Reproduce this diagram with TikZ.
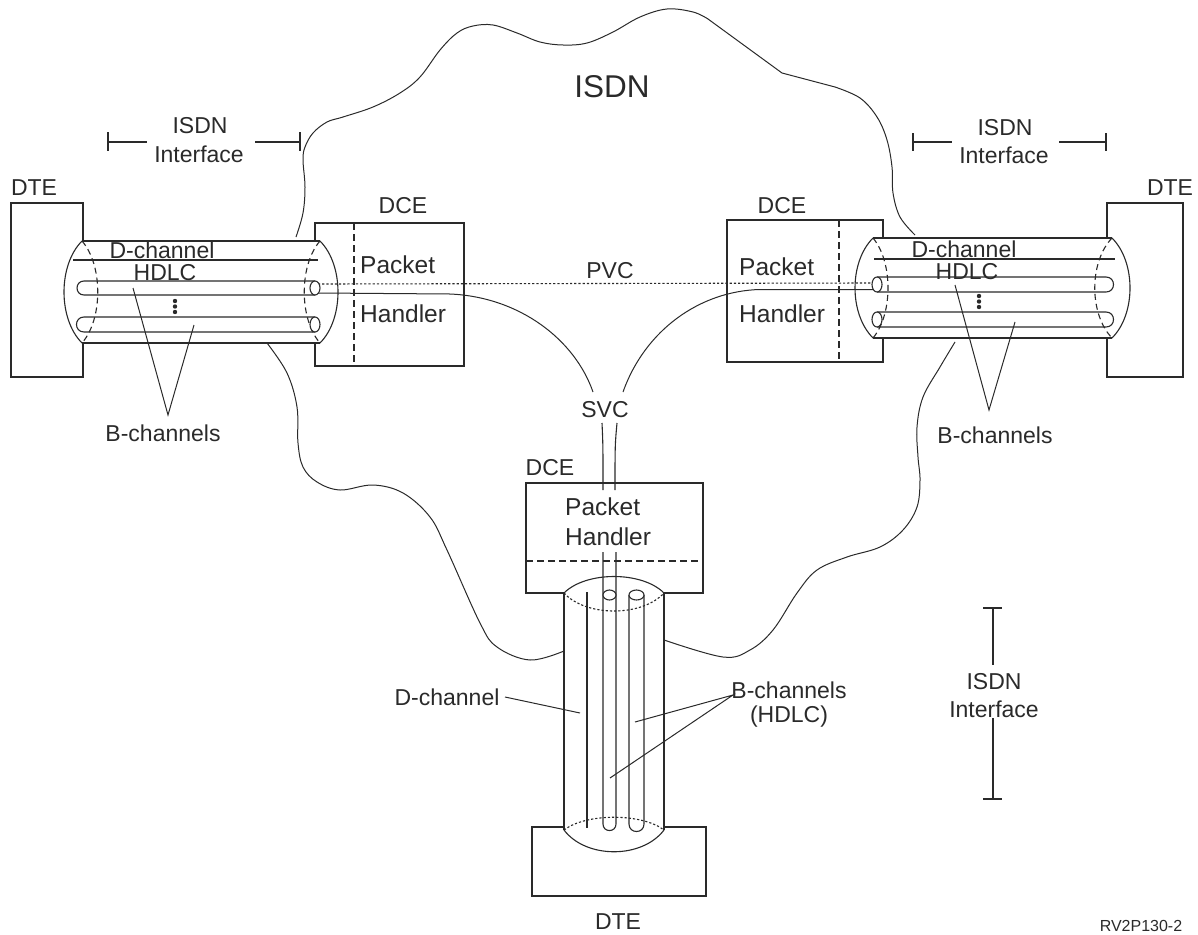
\documentclass[tikz,border=0pt]{standalone}
\usepackage{fontspec}
\setmainfont{Liberation Sans}
\definecolor{ink}{HTML}{2A2A2A}
\begin{document}
\begin{tikzpicture}[x=1pt,y=-1pt,
  ln/.style={draw=ink,line width=1.1pt},
  thin/.style={draw=ink,line width=1pt},
  dsh/.style={dash pattern=on 7pt off 4pt},
  cdsh/.style={dash pattern=on 6pt off 4pt},
  dotl/.style={dash pattern=on 2.2pt off 2pt},
  lbl/.style={font=\fontsize{23}{27}\selectfont,text=ink,inner sep=0pt,anchor=base},
  lblp/.style={font=\fontsize{24.5}{28}\selectfont,text=ink,inner sep=0pt,anchor=base west},
  lblb/.style={font=\fontsize{31.5}{36}\selectfont,text=ink,inner sep=0pt,anchor=base},
  lbls/.style={font=\fontsize{16}{19}\selectfont,text=ink,inner sep=0pt,anchor=base}]
\useasboundingbox (0,0) rectangle (1198,934);

% ---------------- cloud (ISDN network) ----------------
\draw[thin] plot[smooth,tension=0.6] coordinates {(296,237) (303,213) (305,187) (303,160) (305,147) (313,133) (327,122) (343,117) (373,107) (400,93) (420,77) (440,50) (457,33) (473,26) (493,25) (517,33) (540,42) (563,45) (587,43) (613,32) (640,17) (667,9) (693,12) (708,19)}
  -- (782,73) -- (835,87) -- plot[smooth,tension=0.6] coordinates {(835,87) (860,98) (877,117) (887,140) (892,167) (893,193) (900,217) (915,235)};
\draw[thin] plot[smooth,tension=0.6] coordinates {(267,343) (287,373) (297,407) (298,443) (303,467) (317,482) (340,490) (373,485) (403,493) (430,517) (447,550) (480,623) (497,647) (530,660) (564,651)};
\draw[thin] plot[smooth,tension=0.6] coordinates {(664,640) (723,657) (750,650) (773,630) (797,593) (817,570) (847,557) (880,547) (903,530) (917,507) (920,480) (918,457) (917,427) (923,397) (940,367) (955,342)};

% ---------------- boxes ----------------
\draw[ln] (11,203) rectangle (83,377) coordinate (dteL);
\draw[ln] (1107,203) rectangle (1183,377) coordinate (dteR);
\draw[ln] (532,827) rectangle (706,896) coordinate (dteB);
\draw[ln] (315,223) rectangle (464,366);
\draw[ln,dsh] (354,223) -- (354,366);
\draw[ln] (727,220) rectangle (883,362);
\draw[ln,dsh] (839,220) -- (839,362);
\draw[ln] (526,483) rectangle (703,593);
\draw[ln,dsh] (526,561) -- (703,561);

% ---------------- left cylinder ----------------
\fill[white] (82,241) -- (320,241) .. controls (344,265) and (344,319) .. (320,343) -- (82,343) .. controls (58,319) and (58,265) .. (82,241) -- cycle;
\draw[ln] (82,241) -- (320,241) (82,343) -- (320,343);
\draw[ln] (320,241) .. controls (344,265) and (344,319) .. (320,343);
\draw[ln] (82,241) .. controls (58,265) and (58,319) .. (82,343);
\draw[ln,cdsh] (82,241) .. controls (103,265) and (103,319) .. (82,343);
\draw[ln,cdsh] (320,241) .. controls (299,265) and (299,319) .. (320,343);
\draw[ln] (73,260) -- (318,260);
\draw[ln] (315,281) -- (84,281) .. controls (74.7,281) and (74.7,295) .. (84,295) -- (315,295);
\draw[ln] (315,317) -- (84,317) .. controls (74,317) and (74,332) .. (84,332) -- (315,332);
\foreach \yy in {301,306.5,312} \fill[ink] (175,\yy) circle[radius=2.2pt];

% ---------------- right cylinder ----------------
\fill[white] (873,238) -- (1112,238) .. controls (1136,262) and (1136,314) .. (1112,338) -- (873,338) .. controls (849,314) and (849,262) .. (873,238) -- cycle;
\draw[ln] (873,238) -- (1112,238) (873,338) -- (1112,338);
\draw[ln] (1112,238) .. controls (1136,262) and (1136,314) .. (1112,338);
\draw[ln] (873,238) .. controls (849,262) and (849,314) .. (873,338);
\draw[ln,cdsh] (873,238) .. controls (893,262) and (893,314) .. (873,338);
\draw[ln,cdsh] (1112,238) .. controls (1089,262) and (1089,314) .. (1112,338);
\draw[ln] (874,259) -- (1115,259);
\draw[ln] (877,277) -- (1106,277) .. controls (1116,277) and (1116,292) .. (1106,292) -- (877,292);
\draw[ln] (877,312) -- (1106,312) .. controls (1116,312) and (1116,327) .. (1106,327) -- (877,327);
\foreach \yy in {296,301.5,307} \fill[ink] (979,\yy) circle[radius=2.2pt];

% ---------------- PVC / SVC ----------------
\draw[ln,dotl] (318,284) -- (874,283);
\draw[thin] (318,293) -- (450,294) .. controls (520,297) and (575,340) .. (593,392);
\draw[thin] (875,289.5) -- (760,289.5) .. controls (700,291) and (645,330) .. (623,392);
\draw[ln] (602,423) .. controls (603,445) .. (603,490);
\draw[ln] (617,423) .. controls (615,445) .. (615,490);

% end ellipses of horizontal tubes
\draw[ln,fill=white] (315,288) ellipse[x radius=5pt,y radius=7pt];
\draw[ln,fill=white] (315,324.5) ellipse[x radius=5pt,y radius=7.5pt];
\draw[ln,fill=white] (877,284.5) ellipse[x radius=5pt,y radius=7.5pt];
\draw[ln,fill=white] (877,319.5) ellipse[x radius=5pt,y radius=7.5pt];

% ---------------- bottom cylinder ----------------
\fill[white] (564,593) .. controls (586,571) and (642,571) .. (664,593) -- (664,830) .. controls (642,859) and (586,859) .. (564,830) -- cycle;
\draw[ln] (564,593) -- (564,830) (664,593) -- (664,830);
\draw[ln] (564,593) .. controls (586,571) and (642,571) .. (664,593);
\draw[ln] (564,830) .. controls (586,859) and (642,859) .. (664,830);
\draw[ln,dotl] (564,593) .. controls (586,617) and (642,617) .. (664,593);
\draw[ln,dotl] (564,830) .. controls (586,813) and (642,813) .. (664,830);
\draw[ln] (587,592) -- (587,828);
\draw[ln] (603,552) -- (603,824) .. controls (603,832.7) and (616,832.7) .. (616,824) -- (616,552);
\draw[ln] (629,595) -- (629,824) .. controls (629,834) and (644,834) .. (644,824) -- (644,595);
\draw[ln,fill=white] (609.5,595) ellipse[x radius=6.5pt,y radius=5pt];
\draw[ln,fill=white] (636.5,595) ellipse[x radius=7.5pt,y radius=5pt];

% ---------------- interface brackets ----------------
\draw[ln] (108,132) -- (108,151) (108,142) -- (147,142);
\draw[ln] (255,142) -- (300,142) (300,132) -- (300,151);
\draw[ln] (913,133) -- (913,151) (913,142) -- (952,142);
\draw[ln] (1059,142) -- (1106,142) (1106,133) -- (1106,151);
\draw[ln] (983,608) -- (1002,608) (993,608) -- (993,665);
\draw[ln] (993,718) -- (993,799) (983,799) -- (1002,799);

% ---------------- pointer lines ----------------
\coordinate (apL) at (168,415);
\coordinate (apR) at (989,410);
\coordinate (apB) at (733,695);
\draw[thin] (133,288) -- (apL) -- (194,325);
\draw[thin] (955,285) -- (apR) -- (1015,322);
\draw[thin] (635,722) -- (apB) -- (610,778);
\draw[thin] (505,697) -- (580,713);

% ---------------- labels ----------------
\node[lblb] (isdn) at (612,97) {ISDN};
\node[lbl] (ifL1) at (200,133) {ISDN};
\node[lbl] (ifL2) at (199,162) {Interface};
\node[lbl] (ifR1) at (1005,135) {ISDN};
\node[lbl] (ifR2) at (1004,163) {Interface};
\node[lbl] (ifB1) at (994,689) {ISDN};
\node[lbl] (ifB2) at (994,717) {Interface};
\node[lbl] (dteLt) at (34,195) {DTE};
\node[lbl] (dteRt) at (1170,195) {DTE};
\node[lbl] (dteBt) at (618,929) {DTE};
\node[lbl] (dceL) at (403,213) {DCE};
\node[lbl] (dceR) at (782,213) {DCE};
\node[lbl] (dceB) at (550,475) {DCE};
\node[lblp] (pL) at (360,273) {Packet};
\node[lblp] (hL) at (360,322) {Handler};
\node[lblp] (pR) at (739,275) {Packet};
\node[lblp] (hR) at (739,322) {Handler};
\node[lblp] (pB) at (565,515) {Packet};
\node[lblp] (hB) at (565,545) {Handler};
\node[lbl] (dchL) at (162,258) {D-channel};
\node[lbl] (hdL) at (165,280) {HDLC};
\node[lbl] (dchR) at (964,257) {D-channel};
\node[lbl] (hdR) at (967,279) {HDLC};
\node[lbl] (pvc) at (610,278) {PVC};
\node[lbl] (svc) at (605,417) {SVC};
\node[lbl] (bchL) at (163,441) {B-channels};
\node[lbl] (bchR) at (995,443) {B-channels};
\node[lbl] (dchB) at (447,705) {D-channel};
\node[lbl] (bchB) at (789,698) {B-channels};
\node[lbl] (hdB) at (789,722) {(HDLC)};
\node[lbls] (fig) at (1141,931) {RV2P130-2};
\end{tikzpicture}
\end{document}
